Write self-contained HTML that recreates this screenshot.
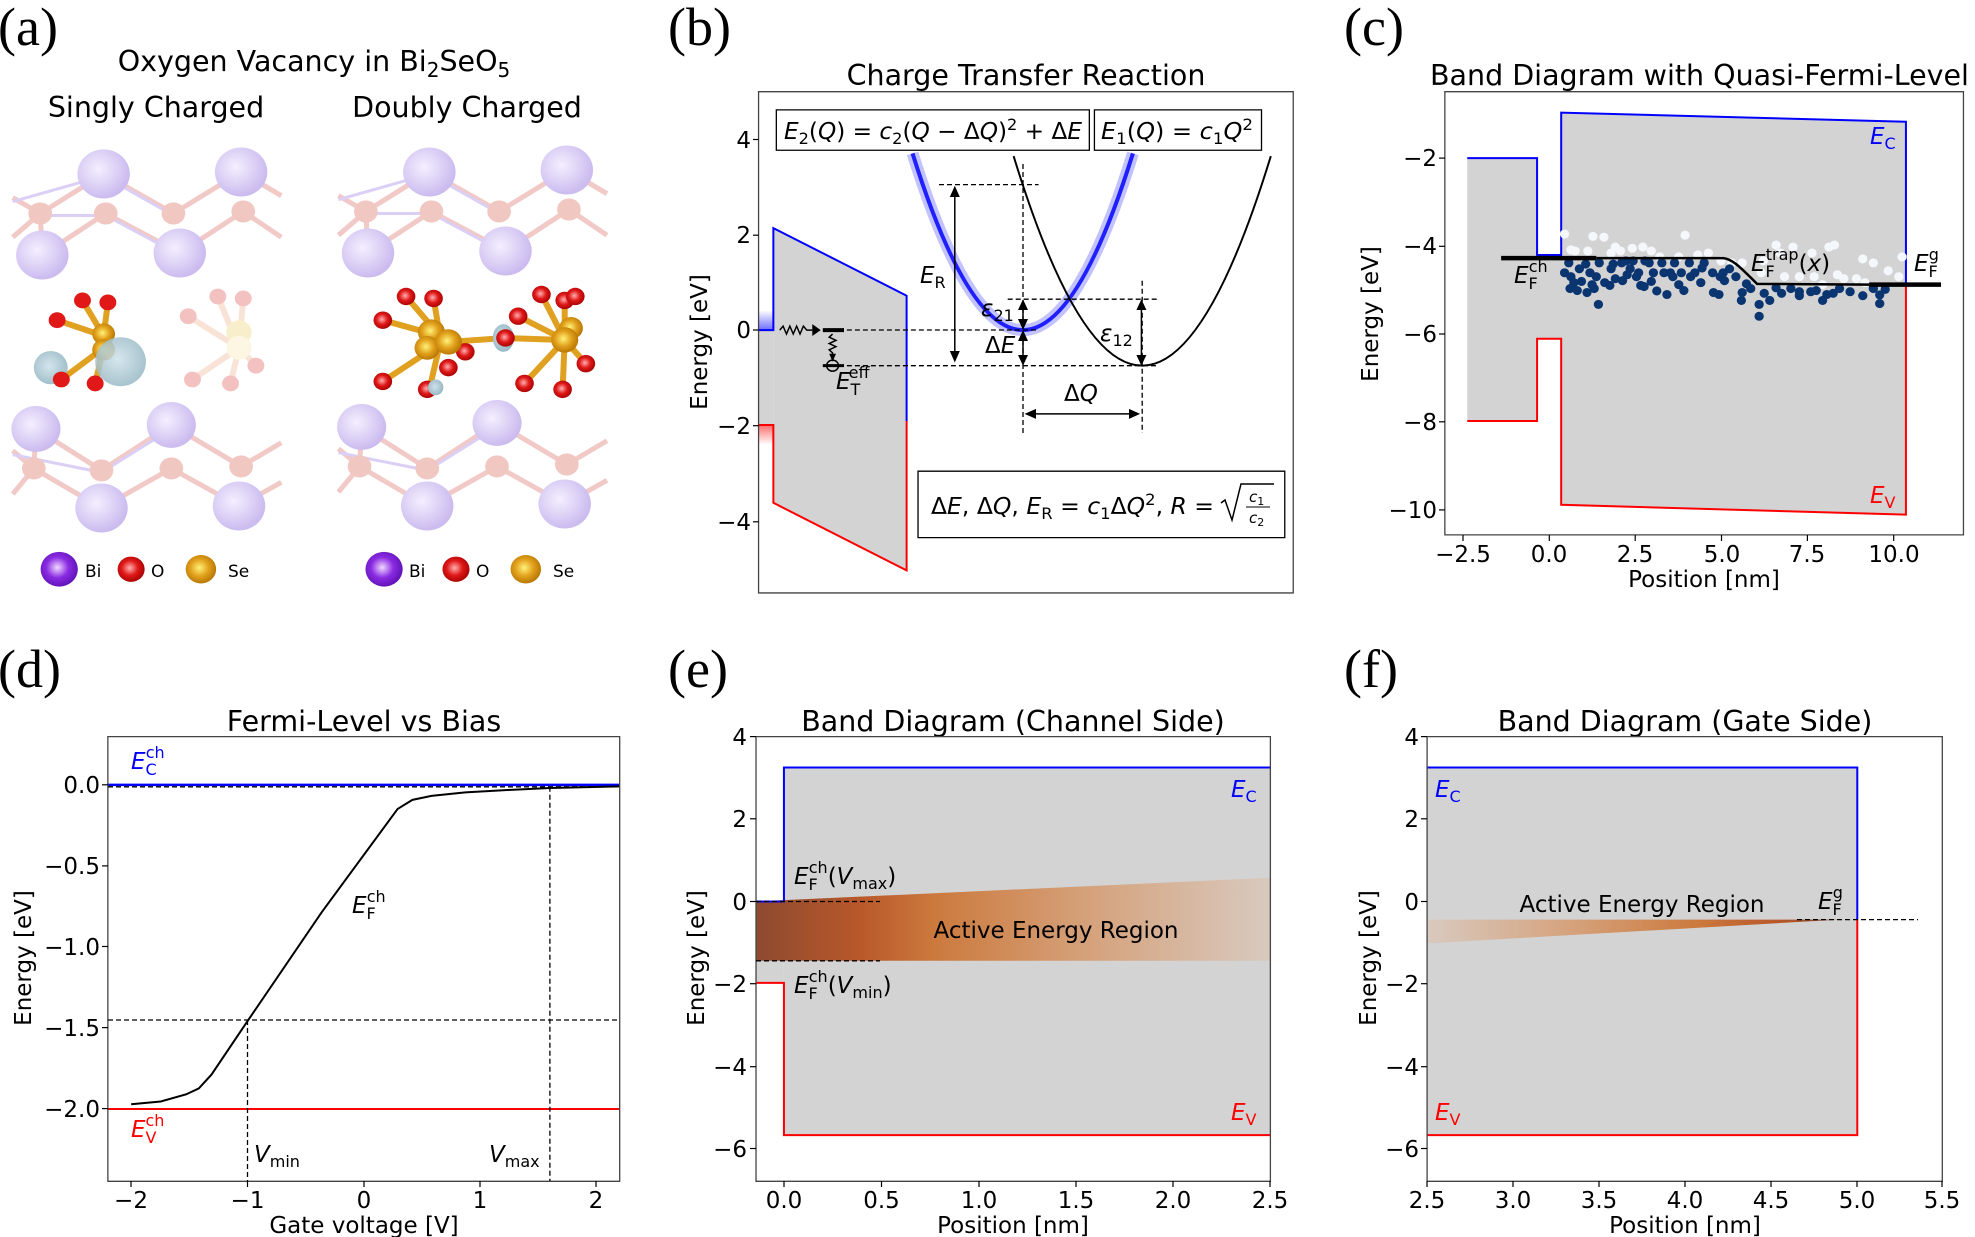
<!DOCTYPE html>
<html><head><meta charset="utf-8"><style>
body{margin:0;background:#fff}
svg{display:block}
text{font-family:"DejaVu Sans","Liberation Sans",sans-serif;fill:#000}
.t{font-size:23px}
.ti{font-size:28.5px}
.lab{font-family:"Liberation Serif","DejaVu Serif",serif;font-size:54px}
.s *{vector-effect:non-scaling-stroke}
.m{font-style:italic}
</style></head><body>
<svg width="1975" height="1237" viewBox="0 0 1975 1237" xmlns="http://www.w3.org/2000/svg">
<defs>
<radialGradient id="bi" cx="0.4" cy="0.4" r="0.6"><stop offset="0" stop-color="#f4eeff"/><stop offset="1" stop-color="#c6b4ee"/></radialGradient>
<radialGradient id="biL" cx="0.45" cy="0.45" r="0.6"><stop offset="0" stop-color="#f2d8ff"/><stop offset="0.5" stop-color="#8a2be2"/><stop offset="1" stop-color="#5a0fb0"/></radialGradient>
<radialGradient id="oL" cx="0.45" cy="0.45" r="0.6"><stop offset="0" stop-color="#ffb0b0"/><stop offset="0.5" stop-color="#e01818"/><stop offset="1" stop-color="#a00000"/></radialGradient>
<radialGradient id="seL" cx="0.45" cy="0.45" r="0.6"><stop offset="0" stop-color="#fff27a"/><stop offset="0.5" stop-color="#e2a11c"/><stop offset="1" stop-color="#b07000"/></radialGradient>
<radialGradient id="cl" cx="0.45" cy="0.45" r="0.6"><stop offset="0" stop-color="#cfe2ea"/><stop offset="1" stop-color="#93b5c2"/></radialGradient>
<linearGradient id="actE" x1="0" x2="1" y1="0" y2="0"><stop offset="0" stop-color="#8e4a30"/><stop offset="0.2" stop-color="#b8582a"/><stop offset="0.35" stop-color="#cc7a3e"/><stop offset="0.65" stop-color="#d5a27c"/><stop offset="1" stop-color="#d8cabf"/></linearGradient>
<linearGradient id="actF" x1="0" x2="1" y1="0" y2="0"><stop offset="0" stop-color="#d8cabf"/><stop offset="0.35" stop-color="#d5a27c"/><stop offset="0.65" stop-color="#cc7a3e"/><stop offset="0.85" stop-color="#b8582a"/><stop offset="1" stop-color="#8e4a30"/></linearGradient>
<linearGradient id="blb" x1="0" x2="0" y1="0" y2="1"><stop offset="0" stop-color="#fff"/><stop offset="1" stop-color="#6d6dff"/></linearGradient>
<linearGradient id="rdb" x1="0" x2="0" y1="0" y2="1"><stop offset="0" stop-color="#ff6d6d"/><stop offset="1" stop-color="#fff"/></linearGradient>
</defs>

<!-- ============ (a) ============ -->
<text class="lab" x="-2" y="45">(a)</text>
<text class="ti" x="314" y="71" text-anchor="middle">Oxygen Vacancy in Bi<tspan font-size="20" dy="6">2</tspan><tspan dy="-6">SeO</tspan><tspan font-size="20" dy="6">5</tspan></text>
<text class="ti" x="156" y="117" text-anchor="middle">Singly Charged</text>
<text class="ti" x="467" y="117" text-anchor="middle">Doubly Charged</text>
<g transform="translate(0,0) scale(0.423,0.3953)" class="s">
  <g id="layer" opacity="0.9">
    <g stroke="#f0c4c0" stroke-width="5" fill="none">
      <polyline points="30,500 95,540 245,440 410,540 570,435 665,495"/>
      <polyline points="30,600 95,540 100,645 250,540 425,640 575,535 665,600"/>
      <polyline points="30,1140 80,1185 85,1085 240,1190 405,1075 570,1180 665,1120"/>
      <polyline points="30,1250 80,1185 240,1285 405,1185 565,1280 665,1220"/>
    </g>
    <g stroke="#d8caf4" stroke-width="3" fill="none">
      <polyline points="30,510 245,445 410,545"/>
      <polyline points="95,545 250,545 425,645"/>
      <polyline points="30,1150 240,1195 405,1085"/>
    </g>
    <g fill="#f0c2bc"><circle cx="95" cy="540" r="28"/><circle cx="250" cy="540" r="28"/><circle cx="410" cy="540" r="28"/><circle cx="575" cy="535" r="28"/>
    <circle cx="80" cy="1185" r="28"/><circle cx="240" cy="1190" r="28"/><circle cx="405" cy="1185" r="28"/><circle cx="570" cy="1180" r="28"/></g>
    <g fill="url(#bi)"><circle cx="245" cy="440" r="62"/><circle cx="570" cy="435" r="62"/><circle cx="100" cy="645" r="62"/><circle cx="425" cy="640" r="62"/>
    <circle cx="85" cy="1085" r="58"/><circle cx="405" cy="1075" r="58"/><circle cx="240" cy="1285" r="62"/><circle cx="565" cy="1280" r="62"/></g>
  </g>
  <use href="#layer" transform="translate(770,-5)"/>
  <g stroke="#e0a020" stroke-width="6"><line x1="245" y1="850" x2="195" y2="760"/><line x1="245" y1="850" x2="255" y2="765"/><line x1="245" y1="850" x2="135" y2="810"/><line x1="245" y1="880" x2="145" y2="960"/><line x1="245" y1="880" x2="225" y2="970"/></g>
  <ellipse cx="120" cy="930" rx="40" ry="42" fill="url(#cl)" opacity="0.9"/>
  <g fill="#e01818"><circle cx="195" cy="760" r="20"/><circle cx="255" cy="765" r="20"/><circle cx="135" cy="810" r="20"/><circle cx="145" cy="960" r="20"/><circle cx="225" cy="970" r="20"/></g>
  <circle cx="245" cy="845" r="27" fill="url(#seL)"/><circle cx="245" cy="885" r="27" fill="url(#seL)"/>
  <ellipse cx="285" cy="915" rx="60" ry="62" fill="url(#cl)" opacity="0.85"/>
  <g opacity="0.35"><g stroke="#f0b090" stroke-width="6"><line x1="565" y1="880" x2="515" y2="750"/><line x1="565" y1="880" x2="575" y2="755"/><line x1="565" y1="880" x2="445" y2="800"/><line x1="565" y1="880" x2="455" y2="960"/><line x1="565" y1="880" x2="545" y2="970"/><line x1="565" y1="880" x2="605" y2="925"/></g>
  <g fill="#e05050"><circle cx="515" cy="750" r="20"/><circle cx="575" cy="755" r="20"/><circle cx="445" cy="800" r="20"/><circle cx="455" cy="960" r="20"/><circle cx="545" cy="970" r="20"/><circle cx="605" cy="925" r="20"/></g>
  <circle cx="565" cy="840" r="30" fill="#f0d070"/><circle cx="565" cy="880" r="30" fill="#f8e8b0"/></g>
  <g stroke="#e0a020" stroke-width="6"><line x1="1040" y1="850" x2="960" y2="750"/><line x1="1040" y1="850" x2="1025" y2="755"/><line x1="1040" y1="850" x2="905" y2="810"/><line x1="1040" y1="870" x2="905" y2="965"/><line x1="1040" y1="870" x2="1015" y2="985"/><line x1="1060" y1="865" x2="1195" y2="855"/><line x1="1195" y1="855" x2="1335" y2="860"/><line x1="1335" y1="860" x2="1280" y2="745"/><line x1="1335" y1="860" x2="1225" y2="800"/><line x1="1335" y1="860" x2="1240" y2="970"/><line x1="1335" y1="860" x2="1330" y2="985"/><line x1="1335" y1="860" x2="1385" y2="920"/><line x1="1335" y1="860" x2="1335" y2="760"/></g>
  <g fill="url(#oL)"><circle cx="960" cy="750" r="22"/><circle cx="1025" cy="755" r="22"/><circle cx="905" cy="810" r="22"/><circle cx="1100" cy="890" r="22"/><circle cx="1060" cy="930" r="22"/><circle cx="1280" cy="745" r="22"/><circle cx="1335" cy="760" r="22"/><circle cx="1360" cy="750" r="22"/><circle cx="1225" cy="800" r="22"/><circle cx="1385" cy="920" r="22"/><circle cx="905" cy="965" r="22"/><circle cx="1010" cy="985" r="22"/><circle cx="1240" cy="970" r="22"/><circle cx="1330" cy="985" r="22"/></g>
  <ellipse cx="1190" cy="855" rx="25" ry="35" fill="url(#cl)"/><circle cx="1195" cy="855" r="22" fill="url(#oL)"/>
  <g fill="url(#seL)"><circle cx="1020" cy="840" r="32"/><circle cx="1010" cy="880" r="30"/><circle cx="1060" cy="865" r="32"/><circle cx="1350" cy="830" r="28"/><circle cx="1335" cy="860" r="32"/></g>
  <ellipse cx="1030" cy="980" rx="18" ry="20" fill="url(#cl)"/>
  <circle cx="140" cy="1440" r="44" fill="url(#biL)"/><circle cx="310" cy="1440" r="32" fill="url(#oL)"/><circle cx="475" cy="1440" r="36" fill="url(#seL)"/>
  <circle cx="908" cy="1440" r="44" fill="url(#biL)"/><circle cx="1078" cy="1440" r="32" fill="url(#oL)"/><circle cx="1243" cy="1440" r="36" fill="url(#seL)"/>
</g>
<g font-size="17"><text x="85" y="577">Bi</text><text x="151" y="577">O</text><text x="228" y="577">Se</text>
<text x="409" y="577">Bi</text><text x="476" y="577">O</text><text x="553" y="577">Se</text></g>

<!-- ============ (b) ============ -->
<text class="lab" x="668" y="45">(b)</text>
<text class="ti" x="1026" y="85" text-anchor="middle">Charge Transfer Reaction</text>
<g transform="translate(660,0) scale(0.423,0.3953)" class="s">
  <rect x="233" y="785" width="35" height="50" fill="url(#blb)"/>
  <rect x="233" y="1075" width="35" height="50" fill="url(#rdb)"/>
  <polygon points="268,577 583,748 583,1443 268,1272" fill="#d3d3d3"/>
  <rect x="233" y="835" width="35" height="240" fill="#d3d3d3"/>
  <polyline points="233,835 268,835 268,577 583,748 583,1065" fill="none" stroke="#0000ff" stroke-width="2"/>
  <polyline points="583,1065 583,1443 268,1272 268,1075 233,1075" fill="none" stroke="#ff0000" stroke-width="2"/>
  <path d="M597,388 Q858,1282 1118,388" fill="none" stroke="#5050ff" stroke-opacity="0.35" stroke-width="12"/>
  <path d="M597,388 Q858,1282 1118,388" fill="none" stroke="#2020ff" stroke-width="4"/>
  <path d="M836,395 Q1140,1455 1444,395" fill="none" stroke="#000" stroke-width="2"/>
  <rect x="233" y="232" width="1264" height="1268" fill="none" stroke="#444" stroke-width="1.3"/>
  <rect x="275" y="278" width="740" height="102" fill="#fff" stroke="#000" stroke-width="1.3"/>
  <rect x="1027" y="278" width="395" height="102" fill="#fff" stroke="#000" stroke-width="1.3"/>
  <rect x="610" y="1192" width="867" height="168" fill="#fff" stroke="#000" stroke-width="1.3"/>
  <line x1="385" y1="835" x2="435" y2="835" stroke="#000" stroke-width="4"/>
  <path d="M283,835 l8,-10 l8,20 l8,-20 l8,20 l8,-20 l8,20 l8,-20 l8,10 L360,835" fill="none" stroke="#000" stroke-width="1.5"/>
  <polygon points="380,835 360,820 360,850" fill="#000"/>
  <path d="M408,845 l-8,8 l16,8 l-16,8 l16,8 l-16,8 l8,8 L408,900" fill="none" stroke="#000" stroke-width="1.5"/>
  <polygon points="408,915 400,895 416,895" fill="#000"/>
  <ellipse cx="408" cy="925" rx="14" ry="14" fill="none" stroke="#000" stroke-width="1.5"/>
  <line x1="385" y1="925" x2="435" y2="925" stroke="#000" stroke-width="3"/>
</g>
<g stroke="#000" stroke-width="1.3" stroke-dasharray="5,3" fill="none">
  <line x1="939" y1="184.6" x2="1038.6" y2="184.6"/>
  <line x1="1023" y1="164" x2="1023" y2="433"/>
  <line x1="1007.7" y1="299.2" x2="1157" y2="299.2"/>
  <line x1="822.9" y1="330" x2="1036.5" y2="330"/>
  <line x1="822.9" y1="365.7" x2="1157" y2="365.7"/>
  <line x1="1142.2" y1="280.7" x2="1142.2" y2="433"/>
</g>
<g stroke="#000" stroke-width="1.5">
  <line x1="954.8" y1="190" x2="954.8" y2="358"/>
  <line x1="1023" y1="303" x2="1023" y2="326"/>
  <line x1="1023" y1="334" x2="1023" y2="361"/>
  <line x1="1141.4" y1="303" x2="1141.4" y2="361"/>
  <line x1="1029" y1="413.9" x2="1136" y2="413.9"/>
</g>
<g fill="#000">
  <polygon points="954.8,185.8 949.8,197 959.8,197"/><polygon points="954.8,362.5 949.8,351 959.8,351"/>
  <polygon points="1023,299.2 1018,310 1028,310"/><polygon points="1023,330 1018,319 1028,319"/>
  <polygon points="1023,330 1018,341 1028,341"/><polygon points="1023,365.7 1018,355 1028,355"/>
  <polygon points="1141.4,299.2 1136.4,310 1146.4,310"/><polygon points="1141.4,365.7 1136.4,355 1146.4,355"/>
  <polygon points="1024.6,413.9 1036,408.9 1036,418.9"/><polygon points="1140.1,413.9 1129,408.9 1129,418.9"/>
</g>
<g class="t">
  <text x="751" y="148" text-anchor="end">4</text><text x="751" y="243" text-anchor="end">2</text><text x="751" y="338" text-anchor="end">0</text><text x="751" y="434" text-anchor="end">−2</text><text x="751" y="530" text-anchor="end">−4</text>
  <text transform="translate(707,342) rotate(-90)" text-anchor="middle">Energy [eV]</text>
</g>
<g stroke="#000" stroke-width="1.2"><line x1="753" y1="139.5" x2="758.6" y2="139.5"/><line x1="753" y1="235.2" x2="758.6" y2="235.2"/><line x1="753" y1="330" x2="758.6" y2="330"/><line x1="753" y1="425.7" x2="758.6" y2="425.7"/><line x1="753" y1="521.8" x2="758.6" y2="521.8"/></g>
<text class="t" x="784" y="139" textLength="298" lengthAdjust="spacingAndGlyphs"><tspan class="m">E</tspan><tspan dy="5" font-size="16">2</tspan><tspan dy="-5">(</tspan><tspan class="m">Q</tspan>) = <tspan class="m">c</tspan><tspan dy="5" font-size="16">2</tspan><tspan dy="-5">(</tspan><tspan class="m">Q</tspan> − Δ<tspan class="m">Q</tspan>)<tspan dy="-9" font-size="16">2</tspan><tspan dy="9"> + Δ</tspan><tspan class="m">E</tspan></text>
<text class="t" x="1101" y="139" textLength="152" lengthAdjust="spacingAndGlyphs"><tspan class="m">E</tspan><tspan dy="5" font-size="16">1</tspan><tspan dy="-5">(</tspan><tspan class="m">Q</tspan>) = <tspan class="m">c</tspan><tspan dy="5" font-size="16">1</tspan><tspan dy="-5" class="m">Q</tspan><tspan dy="-9" font-size="16">2</tspan></text>
<text class="t" x="931" y="514" textLength="283" lengthAdjust="spacingAndGlyphs">Δ<tspan class="m">E</tspan>, Δ<tspan class="m">Q</tspan>, <tspan class="m">E</tspan><tspan dy="5" font-size="16">R</tspan><tspan dy="-5"> = </tspan><tspan class="m">c</tspan><tspan dy="5" font-size="16">1</tspan><tspan dy="-5">Δ</tspan><tspan class="m">Q</tspan><tspan dy="-9" font-size="16">2</tspan><tspan dy="9">, </tspan><tspan class="m">R</tspan> =</text>
<path d="M1221,503 l4,-3 l7,20 l9,-36 h33" fill="none" stroke="#000" stroke-width="1.5"/>
<line x1="1246" y1="507" x2="1270" y2="507" stroke="#000" stroke-width="1"/>
<text class="m" font-size="15" x="1249" y="502">c<tspan font-size="11" dy="3" font-style="normal">1</tspan></text>
<text class="m" font-size="15" x="1249" y="523">c<tspan font-size="11" dy="3" font-style="normal">2</tspan></text>
<g class="t">
  <text x="920" y="283" class="m">E<tspan font-size="16" dy="5" font-style="normal">R</tspan></text>
  <text x="981" y="316" class="m">ε<tspan font-size="16" dy="5" font-style="normal">21</tspan></text>
  <text x="985" y="353">Δ<tspan class="m">E</tspan></text>
  <text x="1100" y="341" class="m">ε<tspan font-size="16" dy="5" font-style="normal">12</tspan></text>
  <text x="1064" y="401">Δ<tspan class="m">Q</tspan></text>
  <text x="836" y="389" class="m">E<tspan font-size="16" dy="6" font-style="normal">T</tspan><tspan font-size="16" dx="-9" dy="-17" font-style="normal">eff</tspan></text>
</g>

<!-- ============ (c) ============ -->
<text class="lab" x="1344" y="45">(c)</text>
<text class="ti" x="1430" y="85">Band Diagram with Quasi-Fermi-Level</text>
<g transform="translate(1315,0) scale(0.423,0.3953)" class="s">
  <polygon points="360,400 525,400 525,645 582,645 582,285 1397,308 1397,1302 582,1277 582,857 525,857 525,1065 360,1065" fill="#d3d3d3"/>
  <polyline points="360,400 525,400 525,645 582,645 582,285 1397,308 1397,720" fill="none" stroke="#0000ff" stroke-width="2"/>
  <polyline points="360,1065 525,1065 525,857 582,857 582,1277 1397,1302 1397,720" fill="none" stroke="#ff0000" stroke-width="2"/>
  <g fill="#f4f7fb">
   <ellipse cx="590" cy="592" rx="11" ry="11.5"/><ellipse cx="605" cy="632" rx="11" ry="11.5"/><ellipse cx="615" cy="635" rx="11" ry="11.5"/><ellipse cx="645" cy="635" rx="11" ry="11.5"/><ellipse cx="657" cy="598" rx="11" ry="11.5"/><ellipse cx="683" cy="600" rx="11" ry="11.5"/><ellipse cx="700" cy="640" rx="11" ry="11.5"/><ellipse cx="710" cy="625" rx="11" ry="11.5"/><ellipse cx="722" cy="635" rx="11" ry="11.5"/><ellipse cx="750" cy="628" rx="11" ry="11.5"/><ellipse cx="775" cy="625" rx="11" ry="11.5"/><ellipse cx="795" cy="635" rx="11" ry="11.5"/><ellipse cx="875" cy="595" rx="11" ry="11.5"/><ellipse cx="905" cy="645" rx="11" ry="11.5"/><ellipse cx="930" cy="640" rx="11" ry="11.5"/><ellipse cx="985" cy="665" rx="11" ry="11.5"/><ellipse cx="1010" cy="665" rx="11" ry="11.5"/><ellipse cx="1060" cy="660" rx="11" ry="11.5"/><ellipse cx="1090" cy="620" rx="11" ry="11.5"/><ellipse cx="1100" cy="640" rx="11" ry="11.5"/><ellipse cx="1130" cy="625" rx="11" ry="11.5"/><ellipse cx="1175" cy="640" rx="11" ry="11.5"/><ellipse cx="1215" cy="625" rx="11" ry="11.5"/><ellipse cx="1228" cy="620" rx="11" ry="11.5"/><ellipse cx="1235" cy="695" rx="11" ry="11.5"/><ellipse cx="1250" cy="705" rx="11" ry="11.5"/><ellipse cx="1280" cy="705" rx="11" ry="11.5"/><ellipse cx="1295" cy="655" rx="11" ry="11.5"/><ellipse cx="1320" cy="665" rx="11" ry="11.5"/><ellipse cx="1355" cy="685" rx="11" ry="11.5"/><ellipse cx="1380" cy="700" rx="11" ry="11.5"/><ellipse cx="1388" cy="650" rx="11" ry="11.5"/><ellipse cx="1180" cy="700" rx="11" ry="11.5"/><ellipse cx="1145" cy="700" rx="11" ry="11.5"/><ellipse cx="1055" cy="690" rx="11" ry="11.5"/><ellipse cx="1110" cy="700" rx="11" ry="11.5"/><ellipse cx="1200" cy="720" rx="11" ry="11.5"/><ellipse cx="1300" cy="715" rx="11" ry="11.5"/><ellipse cx="815" cy="650" rx="11" ry="11.5"/><ellipse cx="860" cy="650" rx="11" ry="11.5"/><ellipse cx="960" cy="660" rx="11" ry="11.5"/>
  </g>
  <g fill="#0b3571">
   <ellipse cx="590" cy="690" rx="11" ry="11.5"/><ellipse cx="600" cy="665" rx="11" ry="11.5"/><ellipse cx="605" cy="700" rx="11" ry="11.5"/><ellipse cx="603" cy="730" rx="11" ry="11.5"/><ellipse cx="612" cy="715" rx="11" ry="11.5"/><ellipse cx="625" cy="680" rx="11" ry="11.5"/><ellipse cx="630" cy="712" rx="11" ry="11.5"/><ellipse cx="640" cy="668" rx="11" ry="11.5"/><ellipse cx="643" cy="740" rx="11" ry="11.5"/><ellipse cx="650" cy="690" rx="11" ry="11.5"/><ellipse cx="655" cy="720" rx="11" ry="11.5"/><ellipse cx="660" cy="730" rx="11" ry="11.5"/><ellipse cx="665" cy="700" rx="11" ry="11.5"/><ellipse cx="670" cy="770" rx="11" ry="11.5"/><ellipse cx="672" cy="665" rx="11" ry="11.5"/><ellipse cx="685" cy="715" rx="11" ry="11.5"/><ellipse cx="697" cy="722" rx="11" ry="11.5"/><ellipse cx="705" cy="668" rx="11" ry="11.5"/><ellipse cx="725" cy="665" rx="11" ry="11.5"/><ellipse cx="727" cy="710" rx="11" ry="11.5"/><ellipse cx="738" cy="695" rx="11" ry="11.5"/><ellipse cx="745" cy="680" rx="11" ry="11.5"/><ellipse cx="752" cy="660" rx="11" ry="11.5"/><ellipse cx="760" cy="700" rx="11" ry="11.5"/><ellipse cx="765" cy="690" rx="11" ry="11.5"/><ellipse cx="770" cy="722" rx="11" ry="11.5"/><ellipse cx="778" cy="725" rx="11" ry="11.5"/><ellipse cx="790" cy="665" rx="11" ry="11.5"/><ellipse cx="795" cy="712" rx="11" ry="11.5"/><ellipse cx="800" cy="690" rx="11" ry="11.5"/><ellipse cx="808" cy="736" rx="11" ry="11.5"/><ellipse cx="820" cy="665" rx="11" ry="11.5"/><ellipse cx="825" cy="690" rx="11" ry="11.5"/><ellipse cx="832" cy="745" rx="11" ry="11.5"/><ellipse cx="840" cy="690" rx="11" ry="11.5"/><ellipse cx="846" cy="700" rx="11" ry="11.5"/><ellipse cx="860" cy="720" rx="11" ry="11.5"/><ellipse cx="866" cy="690" rx="11" ry="11.5"/><ellipse cx="872" cy="735" rx="11" ry="11.5"/><ellipse cx="885" cy="665" rx="11" ry="11.5"/><ellipse cx="888" cy="700" rx="11" ry="11.5"/><ellipse cx="898" cy="690" rx="11" ry="11.5"/><ellipse cx="912" cy="715" rx="11" ry="11.5"/><ellipse cx="915" cy="678" rx="11" ry="11.5"/><ellipse cx="940" cy="690" rx="11" ry="11.5"/><ellipse cx="942" cy="740" rx="11" ry="11.5"/><ellipse cx="955" cy="745" rx="11" ry="11.5"/><ellipse cx="958" cy="700" rx="11" ry="11.5"/><ellipse cx="965" cy="690" rx="11" ry="11.5"/><ellipse cx="968" cy="710" rx="11" ry="11.5"/><ellipse cx="980" cy="680" rx="11" ry="11.5"/><ellipse cx="995" cy="700" rx="11" ry="11.5"/><ellipse cx="1008" cy="760" rx="11" ry="11.5"/><ellipse cx="1020" cy="718" rx="11" ry="11.5"/><ellipse cx="1030" cy="730" rx="11" ry="11.5"/><ellipse cx="1050" cy="770" rx="11" ry="11.5"/><ellipse cx="1050" cy="800" rx="11" ry="11.5"/><ellipse cx="1062" cy="742" rx="11" ry="11.5"/><ellipse cx="1075" cy="760" rx="11" ry="11.5"/><ellipse cx="1090" cy="728" rx="11" ry="11.5"/><ellipse cx="1103" cy="742" rx="11" ry="11.5"/><ellipse cx="1145" cy="738" rx="11" ry="11.5"/><ellipse cx="1145" cy="748" rx="11" ry="11.5"/><ellipse cx="1172" cy="738" rx="11" ry="11.5"/><ellipse cx="1200" cy="760" rx="11" ry="11.5"/><ellipse cx="1210" cy="745" rx="11" ry="11.5"/><ellipse cx="1225" cy="742" rx="11" ry="11.5"/><ellipse cx="1265" cy="738" rx="11" ry="11.5"/><ellipse cx="1295" cy="748" rx="11" ry="11.5"/><ellipse cx="1335" cy="746" rx="11" ry="11.5"/><ellipse cx="1335" cy="768" rx="11" ry="11.5"/><ellipse cx="1348" cy="732" rx="11" ry="11.5"/><ellipse cx="700" cy="680" rx="11" ry="11.5"/><ellipse cx="735" cy="660" rx="11" ry="11.5"/><ellipse cx="780" cy="660" rx="11" ry="11.5"/><ellipse cx="850" cy="665" rx="11" ry="11.5"/><ellipse cx="920" cy="665" rx="11" ry="11.5"/><ellipse cx="620" cy="735" rx="11" ry="11.5"/><ellipse cx="710" cy="705" rx="11" ry="11.5"/><ellipse cx="1010" cy="740" rx="11" ry="11.5"/><ellipse cx="1125" cy="730" rx="11" ry="11.5"/><ellipse cx="1185" cy="735" rx="11" ry="11.5"/><ellipse cx="1240" cy="730" rx="11" ry="11.5"/><ellipse cx="1320" cy="730" rx="11" ry="11.5"/>
  </g>
  <line x1="440" y1="653" x2="665" y2="653" stroke="#000" stroke-width="4.5"/>
  <path d="M665,653 L965,653 C985,655 1000,670 1045,718 L1310,720" fill="none" stroke="#000" stroke-width="2.5"/>
  <line x1="1310" y1="720" x2="1480" y2="720" stroke="#000" stroke-width="4.5"/>
  <rect x="307" y="232" width="1226" height="1121" fill="none" stroke="#444" stroke-width="1.3"/>
</g>
<g stroke="#000" stroke-width="1.2">
  <line x1="1439" y1="158.1" x2="1445" y2="158.1"/><line x1="1439" y1="246.3" x2="1445" y2="246.3"/><line x1="1439" y1="334" x2="1445" y2="334"/><line x1="1439" y1="421.8" x2="1445" y2="421.8"/><line x1="1439" y1="509.9" x2="1445" y2="509.9"/>
  <line x1="1463" y1="535" x2="1463" y2="541"/><line x1="1549.3" y1="535" x2="1549.3" y2="541"/><line x1="1635.2" y1="535" x2="1635.2" y2="541"/><line x1="1721.5" y1="535" x2="1721.5" y2="541"/><line x1="1807.4" y1="535" x2="1807.4" y2="541"/><line x1="1893.7" y1="535" x2="1893.7" y2="541"/>
</g>
<g class="t">
  <text x="1437" y="166" text-anchor="end">−2</text><text x="1437" y="254" text-anchor="end">−4</text><text x="1437" y="342" text-anchor="end">−6</text><text x="1437" y="430" text-anchor="end">−8</text><text x="1437" y="518" text-anchor="end">−10</text>
  <text x="1463" y="562" text-anchor="middle">−2.5</text><text x="1549" y="562" text-anchor="middle">0.0</text><text x="1635" y="562" text-anchor="middle">2.5</text><text x="1722" y="562" text-anchor="middle">5.0</text><text x="1807" y="562" text-anchor="middle">7.5</text><text x="1894" y="562" text-anchor="middle">10.0</text>
  <text x="1704" y="587" text-anchor="middle">Position [nm]</text>
  <text transform="translate(1378,314) rotate(-90)" text-anchor="middle">Energy [eV]</text>
  <text x="1870" y="144" class="m" style="fill:#0000ff">E<tspan font-size="16" dy="5" font-style="normal">C</tspan></text>
  <text x="1870" y="503" class="m" style="fill:#ff0000">E<tspan font-size="16" dy="5" font-style="normal">V</tspan></text>
  <text x="1514" y="283" class="m">E<tspan font-size="16" dy="6" font-style="normal">F</tspan><tspan font-size="16" dx="-9" dy="-17" font-style="normal">ch</tspan></text>
  <text x="1751" y="271" class="m">E<tspan font-size="16" dy="6" font-style="normal">F</tspan><tspan font-size="16" dx="-9" dy="-17" font-style="normal">trap</tspan><tspan dy="11" font-style="normal">(</tspan><tspan>x</tspan><tspan font-style="normal">)</tspan></text>
  <text x="1914" y="271" class="m">E<tspan font-size="16" dy="6" font-style="normal">F</tspan><tspan font-size="16" dx="-9" dy="-17" font-style="normal">g</tspan></text>
</g>

<!-- ============ (d) ============ -->
<text class="lab" x="-2" y="687">(d)</text>
<text class="ti" x="364" y="731" text-anchor="middle">Fermi-Level vs Bias</text>
<g transform="translate(0,620) scale(0.423,0.3953)" class="s">
  <line x1="255" y1="417" x2="1465" y2="417" stroke="#0000ff" stroke-width="2.5"/>
  <line x1="255" y1="1237" x2="1465" y2="1237" stroke="#ff0000" stroke-width="2"/>
  <polyline points="310,1225 380,1218 440,1200 470,1185 500,1150 585,1015 760,740 940,478 975,455 1020,445 1100,436 1200,430 1300,425 1465,421" fill="none" stroke="#000" stroke-width="2"/>
  <rect x="255" y="295" width="1210" height="1125" fill="none" stroke="#444" stroke-width="1.3"/>
</g>
<g stroke="#000" stroke-width="1.3" stroke-dasharray="5,3">
  <line x1="108" y1="786.8" x2="619.7" y2="786.8"/><line x1="108" y1="1020" x2="619.7" y2="1020"/>
  <line x1="247.5" y1="1020" x2="247.5" y2="1181"/><line x1="549.9" y1="786.8" x2="549.9" y2="1181"/>
</g>
<g stroke="#000" stroke-width="1.2">
  <line x1="102" y1="784.8" x2="108" y2="784.8"/><line x1="102" y1="865.9" x2="108" y2="865.9"/><line x1="102" y1="946.5" x2="108" y2="946.5"/><line x1="102" y1="1027.6" x2="108" y2="1027.6"/><line x1="102" y1="1108.6" x2="108" y2="1108.6"/>
  <line x1="131" y1="1181" x2="131" y2="1187"/><line x1="247.5" y1="1181" x2="247.5" y2="1187"/><line x1="364" y1="1181" x2="364" y2="1187"/><line x1="480" y1="1181" x2="480" y2="1187"/><line x1="596" y1="1181" x2="596" y2="1187"/>
</g>
<g class="t">
  <text x="100" y="793" text-anchor="end">0.0</text><text x="100" y="874" text-anchor="end">−0.5</text><text x="100" y="955" text-anchor="end">−1.0</text><text x="100" y="1036" text-anchor="end">−1.5</text><text x="100" y="1117" text-anchor="end">−2.0</text>
  <text x="131" y="1208" text-anchor="middle">−2</text><text x="247.5" y="1208" text-anchor="middle">−1</text><text x="364" y="1208" text-anchor="middle">0</text><text x="480" y="1208" text-anchor="middle">1</text><text x="596" y="1208" text-anchor="middle">2</text>
  <text x="364" y="1233" text-anchor="middle">Gate voltage [V]</text>
  <text transform="translate(31,958) rotate(-90)" text-anchor="middle">Energy [eV]</text>
  <text x="131" y="769" class="m" style="fill:#0000ff">E<tspan font-size="16" dy="6" font-style="normal">C</tspan><tspan font-size="16" dx="-11" dy="-17" font-style="normal">ch</tspan></text>
  <text x="131" y="1137" class="m" style="fill:#ff0000">E<tspan font-size="16" dy="6" font-style="normal">V</tspan><tspan font-size="16" dx="-11" dy="-17" font-style="normal">ch</tspan></text>
  <text x="352" y="913" class="m">E<tspan font-size="16" dy="6" font-style="normal">F</tspan><tspan font-size="16" dx="-9" dy="-17" font-style="normal">ch</tspan></text>
  <text x="254" y="1162" class="m">V<tspan font-size="16" dy="5" font-style="normal">min</tspan></text>
  <text x="489" y="1162" class="m">V<tspan font-size="16" dy="5" font-style="normal">max</tspan></text>
</g>

<!-- ============ (e) ============ -->
<text class="lab" x="668" y="687">(e)</text>
<text class="ti" x="1013" y="731" text-anchor="middle">Band Diagram (Channel Side)</text>
<g transform="translate(660,620) scale(0.423,0.3953)" class="s">
  <rect x="293" y="373" width="1150" height="930" fill="#d3d3d3"/>
  <rect x="227" y="712" width="66" height="206" fill="#d3d3d3"/>
  <polygon points="227,712 1443,652 1443,862 227,862" fill="url(#actE)"/>
  <polyline points="227,712 293,712 293,373 1443,373" fill="none" stroke="#0000ff" stroke-width="2"/>
  <polyline points="227,918 293,918 293,1303 1443,1303" fill="none" stroke="#ff0000" stroke-width="2"/>
  <rect x="227" y="295" width="1216" height="1125" fill="none" stroke="#444" stroke-width="1.3"/>
</g>
<g stroke="#000" stroke-width="1.3" stroke-dasharray="5,3">
  <line x1="756" y1="901.5" x2="880" y2="901.5"/><line x1="756" y1="960.8" x2="880" y2="960.8"/>
</g>
<g stroke="#000" stroke-width="1.2">
  <line x1="750" y1="736.6" x2="756" y2="736.6"/><line x1="750" y1="818.8" x2="756" y2="818.8"/><line x1="750" y1="901.5" x2="756" y2="901.5"/><line x1="750" y1="983.7" x2="756" y2="983.7"/><line x1="750" y1="1066.7" x2="756" y2="1066.7"/><line x1="750" y1="1148.5" x2="756" y2="1148.5"/>
  <line x1="784" y1="1181" x2="784" y2="1187"/><line x1="881.5" y1="1181" x2="881.5" y2="1187"/><line x1="979" y1="1181" x2="979" y2="1187"/><line x1="1076" y1="1181" x2="1076" y2="1187"/><line x1="1173" y1="1181" x2="1173" y2="1187"/><line x1="1270" y1="1181" x2="1270" y2="1187"/>
</g>
<g class="t">
  <text x="747" y="745" text-anchor="end">4</text><text x="747" y="827" text-anchor="end">2</text><text x="747" y="910" text-anchor="end">0</text><text x="747" y="992" text-anchor="end">−2</text><text x="747" y="1075" text-anchor="end">−4</text><text x="747" y="1157" text-anchor="end">−6</text>
  <text x="784" y="1208" text-anchor="middle">0.0</text><text x="881.5" y="1208" text-anchor="middle">0.5</text><text x="979" y="1208" text-anchor="middle">1.0</text><text x="1076" y="1208" text-anchor="middle">1.5</text><text x="1173" y="1208" text-anchor="middle">2.0</text><text x="1270" y="1208" text-anchor="middle">2.5</text>
  <text x="1013" y="1233" text-anchor="middle">Position [nm]</text>
  <text transform="translate(704,958) rotate(-90)" text-anchor="middle">Energy [eV]</text>
  <text x="1231" y="797" class="m" style="fill:#0000ff">E<tspan font-size="16" dy="5" font-style="normal">C</tspan></text>
  <text x="1231" y="1120" class="m" style="fill:#ff0000">E<tspan font-size="16" dy="5" font-style="normal">V</tspan></text>
  <text x="794" y="884" class="m">E<tspan font-size="16" dy="6" font-style="normal">F</tspan><tspan font-size="16" dx="-9" dy="-17" font-style="normal">ch</tspan><tspan dy="11" font-style="normal">(</tspan>V<tspan font-size="16" dy="5" font-style="normal">max</tspan><tspan dy="-5" font-style="normal">)</tspan></text>
  <text x="794" y="993" class="m">E<tspan font-size="16" dy="6" font-style="normal">F</tspan><tspan font-size="16" dx="-9" dy="-17" font-style="normal">ch</tspan><tspan dy="11" font-style="normal">(</tspan>V<tspan font-size="16" dy="5" font-style="normal">min</tspan><tspan dy="-5" font-style="normal">)</tspan></text>
  <text x="1056" y="938" text-anchor="middle">Active Energy Region</text>
</g>

<!-- ============ (f) ============ -->
<text class="lab" x="1344" y="687">(f)</text>
<text class="ti" x="1685" y="731" text-anchor="middle">Band Diagram (Gate Side)</text>
<g transform="translate(1315,620) scale(0.423,0.3953)" class="s">
  <rect x="265" y="373" width="1017" height="930" fill="#d3d3d3"/>
  <polygon points="265,758 1240,758 265,818" fill="url(#actF)"/>
  <polyline points="265,373 1282,373 1282,758" fill="none" stroke="#0000ff" stroke-width="2"/>
  <polyline points="1282,758 1282,1303 265,1303" fill="none" stroke="#ff0000" stroke-width="2"/>
  <rect x="265" y="295" width="1218" height="1125" fill="none" stroke="#444" stroke-width="1.3"/>
</g>
<line x1="1797" y1="919.6" x2="1918" y2="919.6" stroke="#000" stroke-width="1.3" stroke-dasharray="5,3"/>
<g stroke="#000" stroke-width="1.2">
  <line x1="1421" y1="736.6" x2="1427" y2="736.6"/><line x1="1421" y1="818.8" x2="1427" y2="818.8"/><line x1="1421" y1="901.5" x2="1427" y2="901.5"/><line x1="1421" y1="983.7" x2="1427" y2="983.7"/><line x1="1421" y1="1066.7" x2="1427" y2="1066.7"/><line x1="1421" y1="1148.5" x2="1427" y2="1148.5"/>
  <line x1="1427" y1="1181" x2="1427" y2="1187"/><line x1="1513" y1="1181" x2="1513" y2="1187"/><line x1="1599" y1="1181" x2="1599" y2="1187"/><line x1="1685" y1="1181" x2="1685" y2="1187"/><line x1="1771" y1="1181" x2="1771" y2="1187"/><line x1="1857" y1="1181" x2="1857" y2="1187"/><line x1="1942" y1="1181" x2="1942" y2="1187"/>
</g>
<g class="t">
  <text x="1419" y="745" text-anchor="end">4</text><text x="1419" y="827" text-anchor="end">2</text><text x="1419" y="910" text-anchor="end">0</text><text x="1419" y="992" text-anchor="end">−2</text><text x="1419" y="1075" text-anchor="end">−4</text><text x="1419" y="1157" text-anchor="end">−6</text>
  <text x="1427" y="1208" text-anchor="middle">2.5</text><text x="1513" y="1208" text-anchor="middle">3.0</text><text x="1599" y="1208" text-anchor="middle">3.5</text><text x="1685" y="1208" text-anchor="middle">4.0</text><text x="1771" y="1208" text-anchor="middle">4.5</text><text x="1857" y="1208" text-anchor="middle">5.0</text><text x="1942" y="1208" text-anchor="middle">5.5</text>
  <text x="1685" y="1233" text-anchor="middle">Position [nm]</text>
  <text transform="translate(1376,958) rotate(-90)" text-anchor="middle">Energy [eV]</text>
  <text x="1435" y="797" class="m" style="fill:#0000ff">E<tspan font-size="16" dy="5" font-style="normal">C</tspan></text>
  <text x="1435" y="1120" class="m" style="fill:#ff0000">E<tspan font-size="16" dy="5" font-style="normal">V</tspan></text>
  <text x="1642" y="912" text-anchor="middle">Active Energy Region</text>
  <text x="1818" y="909" class="m">E<tspan font-size="16" dy="6" font-style="normal">F</tspan><tspan font-size="16" dx="-9" dy="-17" font-style="normal">g</tspan></text>
</g>
</svg>
</body></html>
